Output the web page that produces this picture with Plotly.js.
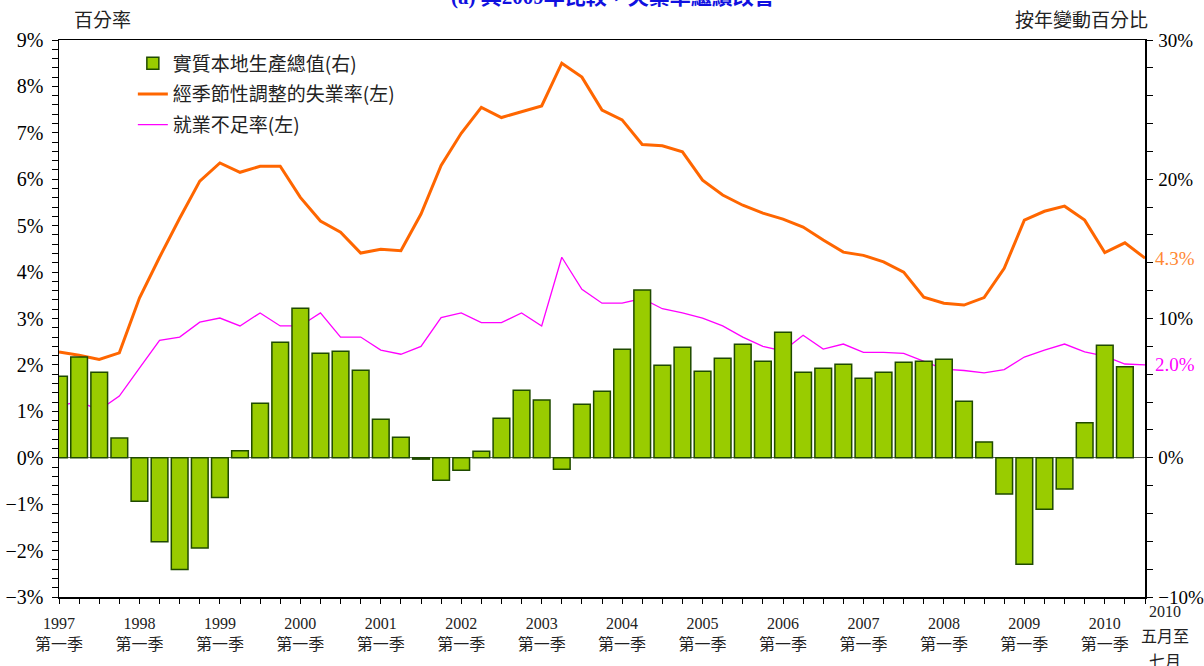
<!DOCTYPE html>
<html>
<head>
<meta charset="utf-8">
<script src="https://cdn.plot.ly/plotly-3.0.1.min.js"></script>
<style>html,body{margin:0;padding:0;background:#fff;}#chart{width:1204px;height:666px;}</style>
</head>
<body>
<div id="chart"></div>
<script>
// Periods: 1997 Q1 ... 2010 Q2, then 2010 May-Jul
const years = [1997,1998,1999,2000,2001,2002,2003,2004,2005,2006,2007,2008,2009,2010];
const periods = [];
years.forEach(y => { for (let q = 1; q <= 4; q++) { if (!(y === 2010 && q > 2)) periods.push(y + 'Q' + q); } });
periods.push('2010M5-7');

const yearTickLabels = ['1997','1998','1999','2000','2001','2002','2003','2004','2005','2006','2007','2008','2009','2010'];
const quarterLabel = '第一季';
const lastLabelLines = ['2010', '五月至', '七月'];

// Real GDP, y-o-y % change (right axis) — quarterly 1997Q1..2010Q2
const gdp = [5.86,7.24,6.14,1.41,-3.12,-6.04,-8.02,-6.49,-2.85,0.50,
             3.92,8.29,10.74,7.51,7.65,6.29,2.77,1.48,-0.10,-1.62,
             -0.89,0.47,2.84,4.85,4.14,-0.82,3.85,4.78,7.80,12.05,
             6.65,7.94,6.22,7.15,8.15,6.93,9.02,6.14,6.43,6.72,
             5.71,6.14,6.86,6.93,7.07,4.06,1.14,-2.61,-7.64,-3.69,
             -2.25,2.51,8.08,6.53];

// Seasonally adjusted unemployment rate (left axis)
const unemp = [2.28,2.21,2.12,2.26,3.44,4.32,5.16,5.96,6.35,6.15,
               6.28,6.28,5.61,5.10,4.86,4.41,4.49,4.46,5.25,6.30,
               6.99,7.55,7.33,7.45,7.58,8.50,8.20,7.49,7.28,6.75,
               6.72,6.59,5.98,5.66,5.44,5.27,5.14,4.97,4.69,4.43,
               4.36,4.22,4.00,3.46,3.33,3.29,3.45,4.08,5.12,5.31,
               5.42,5.12,4.42,4.63,4.30];

// Underemployment rate (left axis)
const underemp = [1.12,1.21,1.03,1.33,1.93,2.53,2.60,2.92,3.01,2.84,
                  3.12,2.84,2.84,3.12,2.60,2.60,2.32,2.23,2.40,3.02,
                  3.12,2.91,2.91,3.12,2.84,4.32,3.63,3.33,3.33,3.43,
                  3.21,3.12,3.01,2.84,2.60,2.40,2.30,2.64,2.34,2.45,
                  2.27,2.27,2.25,2.08,1.91,1.88,1.83,1.90,2.17,2.32,
                  2.45,2.28,2.19,2.02,2.00];

const seriesNames = ['實質本地生產總值(右)', '經季節性調整的失業率(左)', '就業不足率(左)'];

const FONT = '"Liberation Serif", "Times New Roman", "Noto Sans CJK TC", serif';
const CJK = '"Noto Sans CJK TC", "Liberation Serif", sans-serif';

const tickvals = periods.slice();
const ticktext = periods.map((p, i) => (i % 4 === 0 && i < 54) ? yearTickLabels[i / 4] + '<br>' + quarterLabel : '');

const traces = [
  {type: 'bar', x: periods.slice(0, gdp.length), y: gdp, yaxis: 'y2', name: seriesNames[0],
   marker: {color: '#99CC00', line: {color: '#1F4A00', width: 1.5}}, width: 0.83,
   legendgroup: 'a'},
  {type: 'scatter', mode: 'lines', x: periods, y: unemp, name: seriesNames[1],
   line: {color: '#FF6600', width: 3}, legendgroup: 'b'},
  {type: 'scatter', mode: 'lines', x: periods, y: underemp, name: seriesNames[2],
   line: {color: '#FF00FF', width: 1.3}, legendgroup: 'c'}
];

const lastP = periods[periods.length - 1];
const annotations = [
  {text: '(a) 與2009年比較，失業率繼續改善', xref: 'paper', yref: 'paper', x: 0.51, y: 1.078,
   xanchor: 'center', yanchor: 'middle', showarrow: false,
   font: {family: FONT, size: 21, color: '#1010E0', weight: 'bold'}},
  {text: '百分率', xref: 'paper', yref: 'paper', x: 0.012, y: 1.0, yshift: 6,
   xanchor: 'left', yanchor: 'bottom', showarrow: false, font: {family: CJK, size: 19, color: '#222'}},
  {text: '按年變動百分比', xref: 'paper', yref: 'paper', x: 1.005, y: 1.0, yshift: 6,
   xanchor: 'right', yanchor: 'bottom', showarrow: false, font: {family: CJK, size: 19, color: '#222'}},
  {text: unemp[unemp.length - 1].toFixed(1) + '%', x: lastP, y: unemp[unemp.length - 1],
   xref: 'x', yref: 'y', xanchor: 'left', yanchor: 'middle', xshift: 8, showarrow: false,
   font: {family: FONT, size: 19, color: '#FF8833'}},
  {text: underemp[underemp.length - 1].toFixed(1) + '%', x: lastP, y: underemp[underemp.length - 1],
   xref: 'x', yref: 'y', xanchor: 'left', yanchor: 'middle', xshift: 8, showarrow: false,
   font: {family: FONT, size: 19, color: '#FF00FF'}}
];
lastLabelLines.forEach((t, k) => {
  annotations.push({text: t, x: lastP, y: 0, xref: 'x', yref: 'paper',
    xanchor: 'center', yanchor: 'middle', xshift: 20, yshift: -14 - 25 * k, showarrow: false,
    font: {family: FONT, size: 16, color: '#222'}});
});

const layout = {
  width: 1204, height: 666,
  margin: {l: 59, r: 59, t: 40, b: 69},
  paper_bgcolor: '#fff', plot_bgcolor: '#fff',
  font: {family: FONT, color: '#000', size: 17},
  showlegend: true,
  legend: {x: 0.068, y: 0.992, xanchor: 'left', yanchor: 'top', bgcolor: 'rgba(0,0,0,0)',
           font: {family: CJK, size: 19, color: '#222'}, traceorder: 'grouped', tracegroupgap: 3},
  xaxis: {type: 'category', categoryorder: 'array', categoryarray: periods,
          range: [0, periods.length - 1], tickmode: 'array', tickvals: tickvals, ticktext: ticktext,
          ticks: 'outside', ticklen: 5, tickwidth: 1, tickcolor: '#000', ticklabelstandoff: 6,
          showline: true, linecolor: '#000', linewidth: 1.5, mirror: true,
          showgrid: false, zeroline: false, tickangle: 0,
          tickfont: {family: FONT, size: 16, color: '#222'}},
  yaxis: {range: [-3, 9], dtick: 1, tick0: 0, ticksuffix: '%', ticks: 'outside', ticklen: 6,
          tickcolor: '#000', showline: true, linecolor: '#000', linewidth: 1.5, ticklabelstandoff: 4,
          showgrid: false, zeroline: true, zerolinecolor: '#666', zerolinewidth: 1,
          tickfont: {family: FONT, size: 20, color: '#000'},
          minor: {dtick: 0.2, tick0: 0, ticks: 'outside', ticklen: 6, tickcolor: '#000', showgrid: false}},
  yaxis2: {range: [-10, 30], dtick: 10, tick0: 0, ticksuffix: '%', overlaying: 'y', side: 'right',
           ticks: 'outside', ticklen: 6, tickcolor: '#000', showline: true, linecolor: '#000', linewidth: 1.5,
           showgrid: false, zeroline: false, ticklabelstandoff: 2,
           tickfont: {family: FONT, size: 19, color: '#000'},
           minor: {dtick: 2, tick0: 0, ticks: 'outside', ticklen: 6, tickcolor: '#000', showgrid: false}},
  annotations: annotations
};

Plotly.newPlot('chart', traces, layout, {displayModeBar: false, staticPlot: true});
</script>
</body>
</html>
